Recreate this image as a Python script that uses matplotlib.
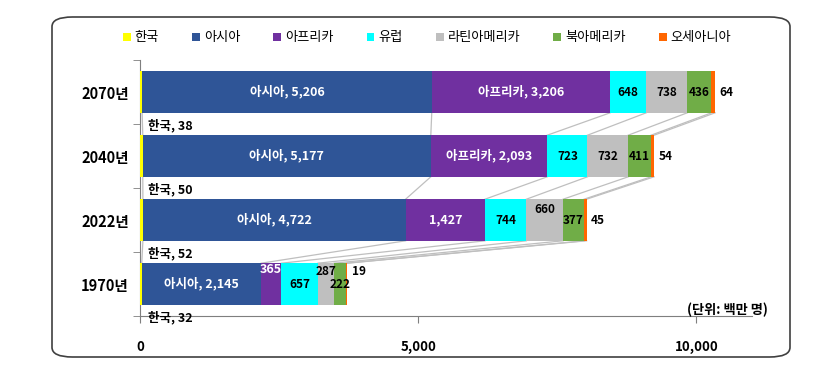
import numpy as np
import matplotlib.pyplot as plt
from matplotlib.patches import FancyBboxPatch
from matplotlib.ticker import FuncFormatter

plt.rcParams['font.family'] = ['Noto Sans CJK KR', 'DejaVu Sans']

# data (bottom to top)
years = ['1970년', '2022년', '2040년', '2070년']
regions = ['한국', '아시아', '아프리카', '유럽', '라틴아메리카', '북아메리카', '오세아니아']
korea = [32, 52, 50, 38]
asia = [2145, 4722, 5177, 5206]
africa = [365, 1427, 2093, 3206]
europe = [657, 744, 723, 648]
latin = [287, 660, 732, 738]
namerica = [222, 377, 411, 436]
oceania = [19, 45, 54, 64]

colors = ['#FFFF00', '#2F5597', '#7030A0', '#00FFFF', '#BFBFBF', '#70AD47', '#FF6600']

series = np.array([korea, asia, africa, europe, latin, namerica, oceania])
cum = np.vstack([np.zeros(len(years)), np.cumsum(series, axis=0)])
ypos = np.arange(len(years))
h = 0.65

fig = plt.figure(figsize=(8.17, 3.85), dpi=100)
ax = fig.add_axes([140 / 817, 1 - 316 / 385, (752 - 140) / 817, (316 - 60) / 385])

for k in range(len(regions)):
    ax.barh(ypos, series[k], left=cum[k], height=h, color=colors[k],
            edgecolor='none', label=regions[k], zorder=3)

# series lines between neighbouring bars
for i in range(len(years) - 1, 0, -1):
    for k in range(1, len(regions) + 1):
        ax.plot([cum[k, i], cum[k, i - 1]], [ypos[i] - h / 2, ypos[i - 1] + h / 2],
                color='#BFBFBF', lw=0.9, zorder=2)

# data labels
for i in range(len(years)):
    ax.text(150, ypos[i] - 0.52, f'한국, {korea[i]}', ha='left', va='center',
            fontsize=9, fontweight='bold', color='black', zorder=4)
    ax.text(cum[1, i] + asia[i] / 2, ypos[i], f'아시아, {asia[i]:,}', ha='center',
            va='center', fontsize=9, color='white', fontweight='bold', zorder=4)
    if africa[i] > 2000:
        txt = f'아프리카, {africa[i]:,}'
    else:
        txt = f'{africa[i]:,}'
    dy = 0.23 if i == 0 else 0
    ax.text(cum[2, i] + africa[i] / 2, ypos[i] + dy, txt, ha='center', va='center',
            fontsize=9, color='white', fontweight='bold', zorder=4)
    ax.text(cum[3, i] + europe[i] / 2, ypos[i], f'{europe[i]}', ha='center', va='center',
            fontsize=8.5, fontweight='bold', zorder=4)
    dy = {0: 0.2, 1: 0.17}.get(i, 0)
    ax.text(cum[4, i] + latin[i] / 2, ypos[i] + dy, f'{latin[i]}', ha='center', va='center',
            fontsize=8.5, fontweight='bold', zorder=4)
    ax.text(cum[5, i] + namerica[i] / 2, ypos[i], f'{namerica[i]}', ha='center', va='center',
            fontsize=8.5, fontweight='bold', zorder=4)
    dy = 0.2 if i == 0 else 0
    ax.text(cum[7, i] + 80, ypos[i] + dy, f'{oceania[i]}', ha='left', va='center',
            fontsize=8.5, fontweight='bold', zorder=4)

ax.set_xlim(0, 11000)
ax.set_ylim(-0.5, 3.5)
ax.set_xticks([0, 5000, 10000])
ax.xaxis.set_major_formatter(FuncFormatter(lambda v, p: f'{int(v):,}'))
ax.set_yticks(ypos)
ax.set_yticklabels(years, fontsize=10.5, fontweight='bold')
ax.set_yticks(np.arange(-0.5, 4, 1), minor=True)
ax.tick_params(axis='y', which='major', length=0, pad=8)
ax.tick_params(axis='y', which='minor', length=5, color='#7f7f7f')
ax.tick_params(axis='x', length=5, color='#7f7f7f', pad=12, labelsize=9.5)
for t in ax.get_xticklabels():
    t.set_fontweight('bold')
for s in ['top', 'right']:
    ax.spines[s].set_visible(False)
for s in ['left', 'bottom']:
    ax.spines[s].set_color('#7f7f7f')

fig.text(768 / 817, 1 - 310 / 385, '(단위: 백만 명)', ha='right', va='center',
         fontsize=9.5, fontweight='bold')

handles, labels = ax.get_legend_handles_labels()
fig.legend(handles, labels, loc='center', bbox_to_anchor=(427 / 817, 1 - 38 / 385),
           ncol=7, frameon=False, fontsize=9.5, handlelength=0.6, handleheight=0.6,
           handletextpad=0.3, columnspacing=2.5)

frame = FancyBboxPatch((52 / 817, 1 - 357 / 385), (790 - 52) / 817, (357 - 17) / 385,
                       boxstyle='round,pad=0,rounding_size=0.025', transform=fig.transFigure,
                       fill=False, edgecolor='#404040', lw=1.2)
fig.patches.append(frame)

fig.savefig('out.png', dpi=100)
